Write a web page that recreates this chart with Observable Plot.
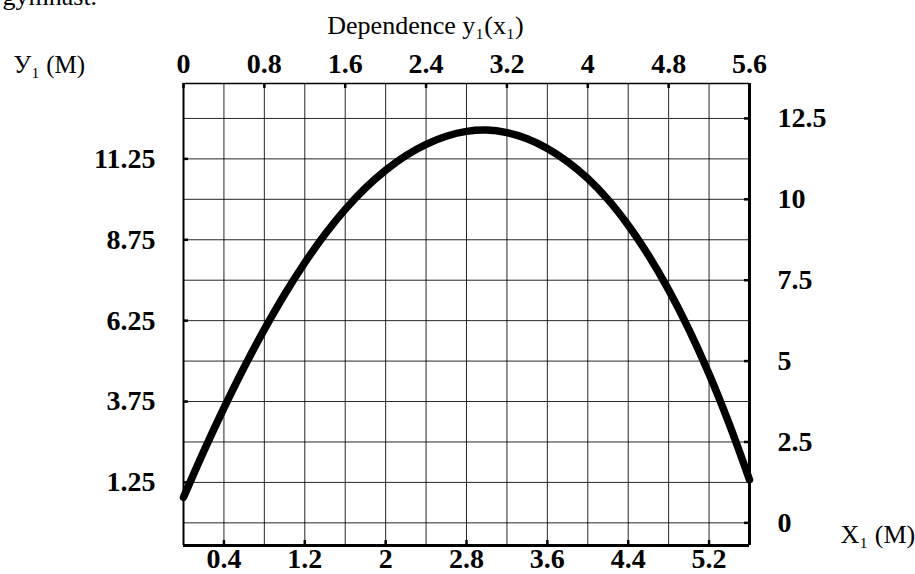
<!DOCTYPE html>
<html>
<head>
<meta charset="utf-8">
<script src="https://cdn.jsdelivr.net/npm/d3@7"></script>
<script src="https://cdn.jsdelivr.net/npm/@observablehq/plot@0.6"></script>
<style>
  html, body { margin: 0; padding: 0; background: #fff; }
</style>
</head>
<body>
<div id="chart"></div>
<script>
// Trajectory of the gymnast: height y1 (m) against horizontal distance x1 (m)
const xs = [0, 0.2, 0.4, 0.6, 0.8, 1.0, 1.2, 1.4, 1.6, 1.8, 2.0, 2.2, 2.4, 2.6, 2.8,
            3.0, 3.2, 3.4, 3.6, 3.8, 4.0, 4.2, 4.4, 4.6, 4.8, 5.0, 5.2, 5.4, 5.6];
const ys = [0.79, 2.21, 3.55, 4.81, 5.98, 7.06, 8.04, 8.92, 9.69, 10.35, 10.90, 11.35, 11.70, 11.95, 12.10,
            12.14, 12.06, 11.87, 11.57, 11.16, 10.64, 9.99, 9.20, 8.27, 7.20, 5.98, 4.60, 3.05, 1.33];

// Tick values for the four axes
const topTicks = [0, 0.8, 1.6, 2.4, 3.2, 4, 4.8, 5.6];
const bottomTicks = [0.4, 1.2, 2, 2.8, 3.6, 4.4, 5.2];
const leftTicks = [1.25, 3.75, 6.25, 8.75, 11.25];
const rightTicks = [0, 2.5, 5, 7.5, 10, 12.5];

// Grid lines
const gridX = [0.4, 0.8, 1.2, 1.6, 2, 2.4, 2.8, 3.2, 3.6, 4, 4.4, 4.8, 5.2];
const gridY = [0, 1.25, 2.5, 3.75, 5, 6.25, 7.5, 8.75, 10, 11.25, 12.5];

// Axis domains
const xDomain = [0, 5.6];
const yDomain = [-0.7, 13.58];

const texts = {
  lead: "gymnast.",
  title: "Dependence y\u2081(x\u2081)",
  yLabel: "\u0423\u2081 (\u041C)",
  xLabel: "X\u2081 (\u041C)"
};

const points = xs.map((x, i) => ({x, y: ys[i]}));

const W = 915, H = 574;
const mL = 183, mR = 166, mT = 83, mB = 29;
const frameW = W - mL - mR, frameH = H - mT - mB;

const serif = "'Liberation Serif', 'Times New Roman', serif";
const labelFont = {fontFamily: serif, fontSize: 28, fontWeight: "bold", fill: "#000"};
const plainFont = {fontFamily: serif, fontSize: 26, fill: "#000"};

const fmt = d => String(d);

const chart = Plot.plot({
  width: W,
  height: H,
  marginLeft: mL,
  marginRight: mR,
  marginTop: mT,
  marginBottom: mB,
  style: {background: "#fff", fontFamily: serif},
  x: {domain: xDomain, axis: null},
  y: {domain: yDomain, axis: null},
  marks: [
    // grid
    Plot.ruleX(gridX, {x: d => d, stroke: "#000", strokeWidth: 1, strokeOpacity: 0.85}),
    Plot.ruleY(gridY, {y: d => d, stroke: "#000", strokeWidth: 1, strokeOpacity: 0.85}),
    // frame
    Plot.ruleY([yDomain[1]], {y: d => d, stroke: "#000", strokeWidth: 1.5}),
    Plot.ruleX([xDomain[0]], {x: d => d, stroke: "#000", strokeWidth: 2}),
    Plot.ruleX([xDomain[1]], {x: d => d, stroke: "#000", strokeWidth: 3}),
    Plot.ruleY([yDomain[0]], {y: d => d, stroke: "#000", strokeWidth: 3}),
    // inward tick marks
    Plot.tickX(topTicks, {x: d => d, insetBottom: frameH - 5, stroke: "#000", strokeWidth: 2.5}),
    Plot.tickX(bottomTicks, {x: d => d, insetTop: frameH - 5, stroke: "#000", strokeWidth: 2.5}),
    Plot.tickY(leftTicks, {y: d => d, insetRight: frameW - 5, stroke: "#000", strokeWidth: 2.5}),
    Plot.tickY(rightTicks, {y: d => d, insetLeft: frameW - 5, stroke: "#000", strokeWidth: 2.5}),
    // tick labels
    Plot.text(topTicks, {x: d => d, text: fmt, frameAnchor: "top", dy: -19, lineAnchor: "middle", ...labelFont}),
    Plot.text(bottomTicks, {x: d => d, text: fmt, frameAnchor: "bottom", dy: 14, lineAnchor: "middle", ...labelFont}),
    Plot.text(leftTicks, {y: d => d, text: fmt, frameAnchor: "left", dx: -28, textAnchor: "end", lineAnchor: "middle", ...labelFont}),
    Plot.text(rightTicks, {y: d => d, text: fmt, frameAnchor: "right", dx: 28, textAnchor: "start", lineAnchor: "middle", ...labelFont}),
    // the trajectory
    Plot.line(points, {x: "x", y: "y", curve: "catmull-rom", stroke: "#000", strokeWidth: 7.5,
                       strokeLinecap: "round", strokeLinejoin: "round"}),
    // titles and axis names
    Plot.text([texts.lead], {text: d => d, frameAnchor: "top-left", dx: 2 - mL, dy: 4 - mT,
                             textAnchor: "start", lineAnchor: "bottom", ...plainFont}),
    Plot.text([texts.title], {text: d => d, frameAnchor: "top-left", dx: 425 - mL, dy: 33 - mT,
                              textAnchor: "middle", lineAnchor: "bottom", ...plainFont}),
    Plot.text([texts.yLabel], {text: d => d, frameAnchor: "top-left", dx: 13 - mL, dy: 72 - mT,
                               textAnchor: "start", lineAnchor: "bottom", ...plainFont, fontSize: 25}),
    Plot.text([texts.xLabel], {text: d => d, frameAnchor: "bottom-right", dx: 840 - (W - mR), dy: 542 - (H - mB),
                               textAnchor: "start", lineAnchor: "bottom", ...plainFont})
  ]
});

document.getElementById("chart").appendChild(chart);
</script>
</body>
</html>
